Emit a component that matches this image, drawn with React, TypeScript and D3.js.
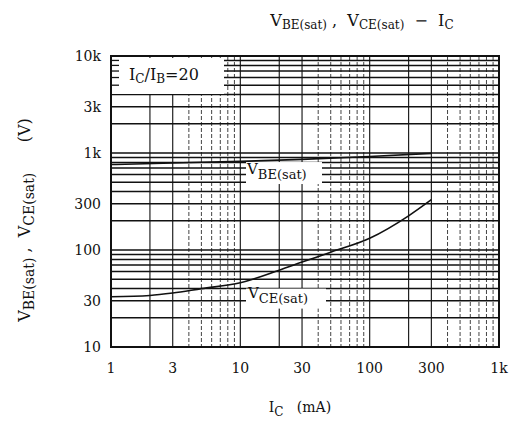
import React from "react";
import * as d3 from "d3";

// tick values and labels
const xTicks = [1, 3, 10, 30, 100, 300, 1000];
const xTickLabels = ["1", "3", "10", "30", "100", "300", "1k"];
const yTicks = [10, 30, 100, 300, 1000, 3000, 10000];
const yTickLabels = ["10", "30", "100", "300", "1k", "3k", "10k"];

// VCE(sat) (mA -> value)
const icVce = [1, 2, 3, 5, 10, 20, 30, 50, 100, 200, 300];
const vce = [33, 34, 36, 40, 46, 62, 75, 95, 132, 225, 330];

// VBE(sat), mostly buried in the grid
const icVbe = [1, 3, 10, 30, 100, 300];
const vbe = [760, 790, 820, 860, 920, 990];

const width = 510;
const height = 423;
const left = 111;
const right = 499;
const top = 56;
const bottom = 347;
const font = "'DejaVu Serif', 'Liberation Serif', serif";
const ink = "#111";
const pre = { whiteSpace: "pre" } as React.CSSProperties;

const App: React.FC = () => {
  const x = d3.scaleLog().domain([1, 1000]).range([left, right]);
  const y = d3.scaleLog().domain([10, 10000]).range([bottom, top]);

  // grid at 1..9 of every decade
  const vLines: { v: number; minor: boolean }[] = [];
  [1, 10, 100].forEach((d) => {
    for (let m = 2; m <= 9; m++) vLines.push({ v: m * d, minor: m > 3 });
    if (d > 1) vLines.push({ v: d, minor: false });
  });
  const hLines: number[] = [];
  [10, 100, 1000].forEach((d) => {
    for (let m = 1; m <= 9; m++) if (m * d > 10) hLines.push(m * d);
  });

  const line = d3
    .line<[number, number]>()
    .x((d) => x(d[0]))
    .y((d) => y(d[1]))
    .curve(d3.curveMonotoneX);

  const vcePts = icVce.map((c, i) => [c, vce[i]] as [number, number]);
  const vbePts = icVbe.map((c, i) => [c, vbe[i]] as [number, number]);

  return (
    <div style={{ position: "fixed", left: 0, top: 0 }}>
      <svg width={width} height={height} style={{ display: "block", background: "#fff" }}>
        {/* title */}
        <text x={362} y={26} textAnchor="middle" fontFamily={font} fontSize={16} fill={ink} style={pre}>
          V<tspan fontSize={12} dy={3}>BE(sat)</tspan>
          <tspan dy={-3}>{" ,  V"}</tspan>
          <tspan fontSize={12} dy={3}>CE(sat)</tspan>
          <tspan dy={-3}>{"  −  I"}</tspan>
          <tspan fontSize={12} dy={3}>C</tspan>
        </text>

        {/* vertical grid */}
        {vLines.map((l, i) => (
          <line
            key={"v" + i}
            x1={x(l.v)}
            x2={x(l.v)}
            y1={top}
            y2={bottom}
            stroke={l.minor ? "#444" : "#222"}
            strokeWidth={l.minor ? 1 : 1.2}
            strokeDasharray={l.minor ? "4,2" : undefined}
          />
        ))}
        {/* horizontal grid */}
        {hLines.map((v, i) => (
          <line key={"h" + i} x1={left} x2={right} y1={y(v)} y2={y(v)} stroke={ink} strokeWidth={1.5} />
        ))}

        {/* label boxes knock out the grid */}
        <rect x={left + 1} y={top + 2} width={112} height={36} fill="#fff" />
        <rect x={246} y={y(700) - 6} width={76} height={22} fill="#fff" />
        <rect x={246} y={y(40)} width={80} height={20} fill="#fff" />

        {/* short stubs left of the condition box */}
        {[9000, 8000, 7000, 6000, 5000].map((v) => (
          <line key={"s" + v} x1={left} x2={left + 8} y1={y(v)} y2={y(v)} stroke={ink} strokeWidth={1.3} />
        ))}

        {/* curves */}
        <path d={line(vbePts) ?? ""} fill="none" stroke={ink} strokeWidth={1.6} />
        <path d={line(vcePts) ?? ""} fill="none" stroke={ink} strokeWidth={1.6} />

        {/* frame */}
        <rect x={left} y={top} width={right - left} height={bottom - top} fill="none" stroke={ink} strokeWidth={2} />

        {/* annotations */}
        <text x={129} y={80} fontFamily={font} fontSize={16} fill={ink}>
          I<tspan fontSize={12} dy={3}>C</tspan>
          <tspan dy={-3}>/I</tspan>
          <tspan fontSize={12} dy={3}>B</tspan>
          <tspan dy={-3}>=20</tspan>
        </text>
        <text x={247} y={y(700) + 6} fontFamily={font} fontSize={15} fill={ink}>
          V<tspan fontSize={13} dy={5}>BE(sat)</tspan>
        </text>
        <text x={248} y={y(40) + 9} fontFamily={font} fontSize={15} fill={ink}>
          V<tspan fontSize={13} dy={5}>CE(sat)</tspan>
        </text>

        {/* x ticks */}
        {xTicks.map((t, i) => (
          <text key={"xt" + i} x={x(t)} y={373} textAnchor="middle" fontFamily={font} fontSize={14} fill={ink}>
            {xTickLabels[i]}
          </text>
        ))}
        {/* y ticks */}
        {yTicks.map((t, i) => (
          <text key={"yt" + i} x={left - 10} y={y(t) + 5} textAnchor="end" fontFamily={font} fontSize={14} fill={ink}>
            {yTickLabels[i]}
          </text>
        ))}

        {/* axis titles */}
        <text x={300} y={412} textAnchor="middle" fontFamily={font} fontSize={14} fill={ink} style={pre}>
          I<tspan fontSize={12} dy={4}>C</tspan>
          <tspan dy={-4}>{"   (mA)"}</tspan>
        </text>
        <text
          transform={`translate(30, 220) rotate(-90)`}
          textAnchor="middle"
          fontFamily={font}
          fontSize={16}
          fill={ink}
          style={pre}
        >
          V<tspan fontSize={14} dy={4}>BE(sat)</tspan>
          <tspan dy={-4}>{" ,  V"}</tspan>
          <tspan fontSize={14} dy={4}>CE(sat)</tspan>
          <tspan dy={-4}>{"      (V)"}</tspan>
        </text>
      </svg>
    </div>
  );
};

export default App;
